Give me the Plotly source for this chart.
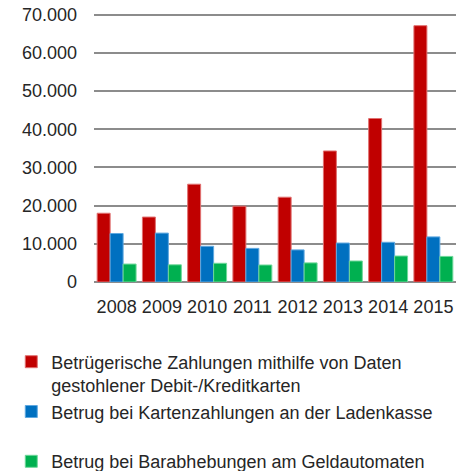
import plotly.graph_objects as go

years = ["2008", "2009", "2010", "2011", "2012", "2013", "2014", "2015"]
stolen_data = [18000, 17000, 25600, 19850, 22200, 34300, 42800, 67100]
pos_fraud = [12700, 12800, 9350, 8800, 8400, 10200, 10400, 11800]
atm_fraud = [4700, 4500, 4900, 4450, 5000, 5500, 6800, 6700]

names = [
    "Betrügerische Zahlungen mithilfe von Daten<br>gestohlener Debit-/Kreditkarten",
    "Betrug bei Kartenzahlungen an der Ladenkasse<br> ",
    "Betrug bei Barabhebungen am Geldautomaten",
]
colors = ["#C00000", "#0070C0", "#00B050"]
edges = ["#E07070", "#5FA8E0", "#6FD89A"]

fig = go.Figure()
for vals, name, c, e in zip([stolen_data, pos_fraud, atm_fraud], names, colors, edges):
    fig.add_trace(go.Bar(x=years, y=vals, name=name,
                         marker=dict(color=c, line=dict(color=e, width=1))))

font = "Liberation Sans, Arial, sans-serif"
fig.update_layout(
    width=466, height=471,
    margin=dict(l=94, r=10, t=13.4, b=189, autoexpand=False),
    paper_bgcolor="white", plot_bgcolor="white",
    separators=",.",
    barmode="group", bargap=0.14, bargroupgap=0,
    font=dict(family=font, size=18, color="#262626"),
    xaxis=dict(showgrid=False, showline=False, ticks="", ticklabelstandoff=12,
               tickfont=dict(size=18)),
    yaxis=dict(range=[0, 70420], tick0=0, dtick=10000, tickformat=",.0f",
               showgrid=True, gridcolor="#8c8c8c", gridwidth=1.5,
               zeroline=True, zerolinecolor="#8c8c8c", zerolinewidth=1.5,
               showline=False, ticks="", ticklabelstandoff=16,
               ticklabeloverflow="allow",
               tickfont=dict(size=18)),
    legend=dict(orientation="v", xref="container", yref="container",
                x=0.0242, xanchor="left", y=0.2707, yanchor="top",
                valign="top", font=dict(size=18), traceorder="normal",
                bgcolor="rgba(0,0,0,0)", tracegroupgap=0),
)

fig.write_html("out.html", config={"displayModeBar": False},
               post_script="document.body.style.margin='0px';")
